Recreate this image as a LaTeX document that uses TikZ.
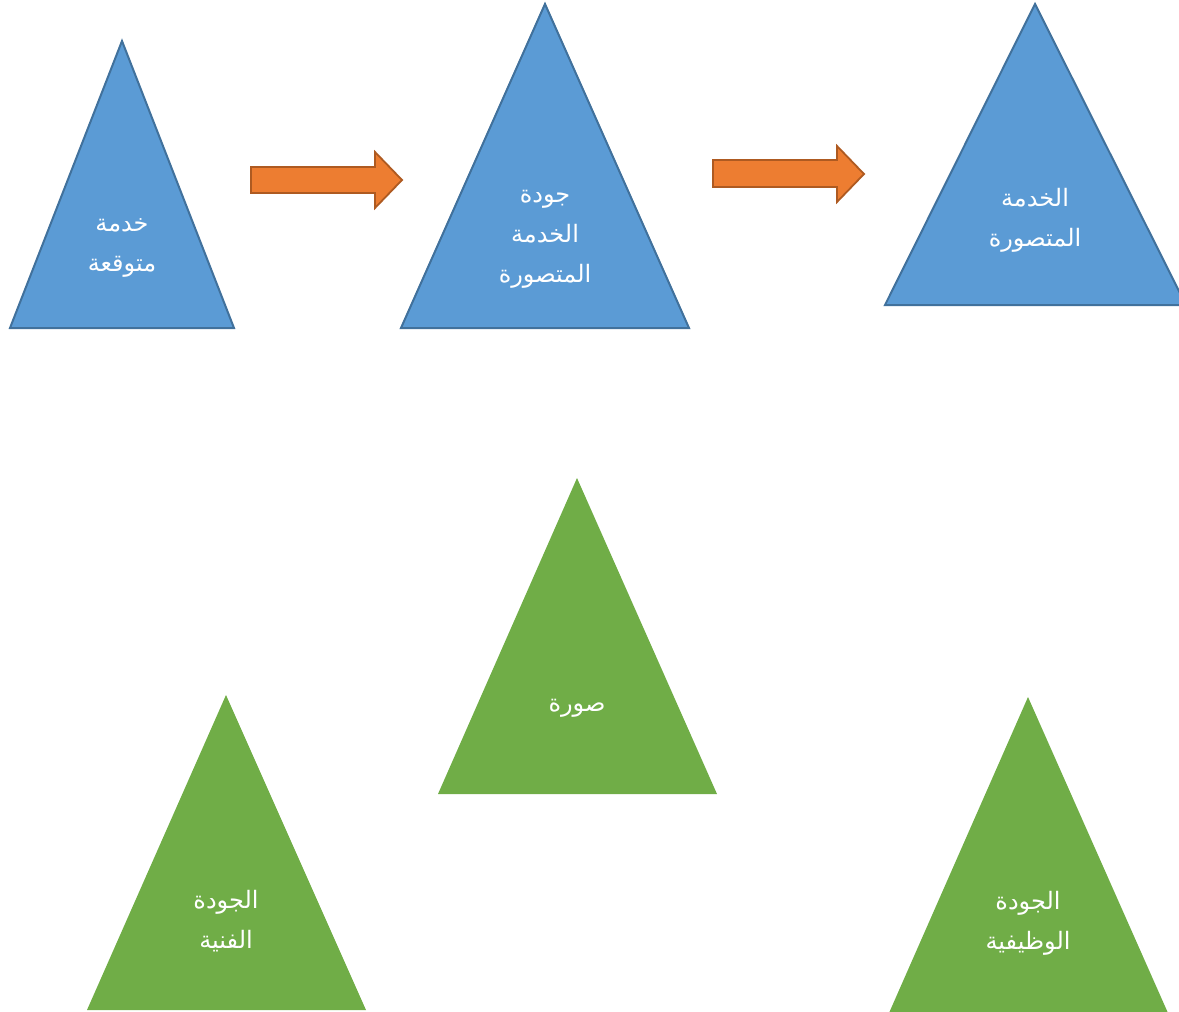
\documentclass[tikz,border=0pt]{standalone}
\usepackage{fontspec}
\newfontfamily\arabicfont[Script=Arabic]{DejaVu Sans}
\TeXXeTstate=1
\definecolor{tblue}{HTML}{5B9BD5}
\definecolor{tblueline}{HTML}{41719C}
\definecolor{tgreen}{HTML}{70AD47}
\definecolor{torange}{HTML}{ED7D31}
\definecolor{torangeline}{HTML}{AE5A21}
\tikzset{
  bluetri/.style={fill=tblue, draw=tblueline, line width=2pt, line join=miter},
  greentri/.style={fill=tgreen},
  arrowshape/.style={fill=torange, draw=torangeline, line width=1.8pt},
  lbl/.style={text=white, font=\arabicfont\fontsize{24}{40}\selectfont, align=center, inner sep=0pt}
}
\begin{document}
\begin{tikzpicture}[x=1pt, y=-1pt]
\useasboundingbox (0,0) rectangle (1179,1012);
\begin{scope}
\clip (0,0) rectangle (1179,1012);
% blue triangles
\draw[bluetri] (122,41) -- (234,328) -- (10,328) -- cycle;
\draw[bluetri] (545,4) -- (689,328) -- (401,328) -- cycle;
\draw[bluetri] (1035,4) -- (1186,305) -- (885,305) -- cycle;
% orange block arrows
\draw[arrowshape] (251,167) -- (375,167) -- (375,152) -- (402,180) -- (375,208) -- (375,193) -- (251,193) -- cycle;
\draw[arrowshape] (713,160) -- (837,160) -- (837,146) -- (864,174) -- (837,202) -- (837,187) -- (713,187) -- cycle;
% green triangles
\fill[greentri] (577,478) -- (717,794) -- (438,794) -- cycle;
\fill[greentri] (226,695) -- (366,1010) -- (87,1010) -- cycle;
\fill[greentri] (1028,697) -- (1168,1013) -- (889,1013) -- cycle;
\end{scope}
% labels
\node[lbl] (t1) at (122,248) {\beginR خدمة\endR\\\beginR متوقعة\endR};
\node[lbl] (t2) at (545,239) {\beginR جودة\endR\\\beginR الخدمة\endR\\\beginR المتصورة\endR};
\node[lbl] (t3) at (1035,220) {\beginR الخدمة\endR\\\beginR المتصورة\endR};
\node[lbl] (t4) at (577,708) {\beginR صورة\endR};
\node[lbl] (t5) at (226,921) {\beginR الجودة\endR\\\beginR الفنية\endR};
\node[lbl] (t6) at (1028,923) {\beginR الجودة\endR\\\beginR الوظيفية\endR};
\end{tikzpicture}
\end{document}
